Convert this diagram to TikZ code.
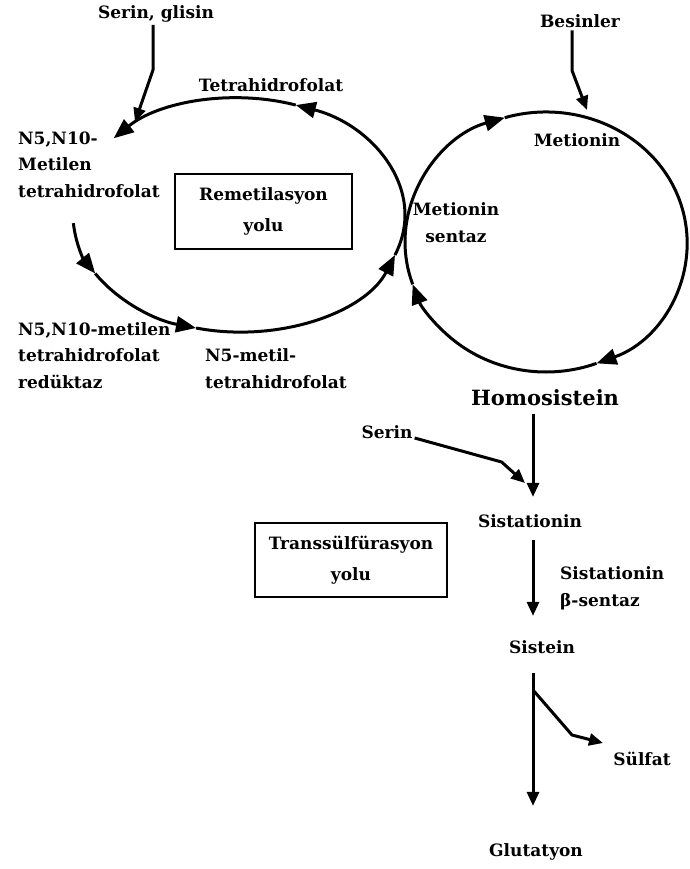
\documentclass[tikz,border=0pt]{standalone}
\usepackage{fontspec}
\setmainfont{DejaVu Serif}
\usetikzlibrary{arrows.meta}

\newcommand{\lblfont}{\fontsize{17pt}{26.5pt}\selectfont\bfseries}
\newcommand{\boxfont}{\fontsize{17pt}{31pt}\selectfont\bfseries}
\newcommand{\bigfont}{\fontsize{21pt}{25pt}\selectfont\bfseries}

\begin{document}
\begin{tikzpicture}[x=1pt, y=1pt,
  lbl/.style={font=\lblfont, inner sep=2pt},
  big/.style={font=\bigfont, inner sep=2pt},
  pathbox/.style={draw, line width=2.2pt, font=\boxfont, align=center},
  ring/.style={line width=3pt},
  cyc/.style={ring, -{Triangle[length=20pt,width=16pt]}},
  flow/.style={line width=3pt, -{Triangle[length=14pt,width=12pt]}}]

\useasboundingbox (0,0) rectangle (689,-869);

% Centres of the two cycles
\coordinate (rem) at (239,-215);
\coordinate (met) at (546,-242);
\coordinate (axis) at (533,0);

% Remethylation side
\node[lbl, anchor=base] (sg) at (156,-19) {Serin, glisin};
\node[lbl, anchor=base] (thf) at (271,-92) {Tetrahidrofolat};
\node[lbl, anchor=base west, align=left] (mthf) at (16,-197) {N5,N10-\\Metilen\\tetrahidrofolat};
\node[lbl, anchor=base west, align=left] (mthfr) at (16,-388) {N5,N10-metilen\\tetrahidrofolat\\redüktaz};
\node[lbl, anchor=base west, align=left] (methf) at (203,-388) {N5-metil-\\tetrahidrofolat};
\node[pathbox, minimum width=177pt, minimum height=75pt] (rbox) at (263.5,-211.5) {Remetilasyon\\yolu};

% Methionine side
\node[lbl, anchor=base] (bes) at (580,-28) {Besinler};
\node[lbl, anchor=base] (metn) at (577,-147) {Metionin};
\node[lbl, anchor=base, align=center] (ms) at (456,-242) {Metionin\\sentaz};
\node[big, anchor=base] (homo) at (545,-405) {Homosistein};

% Transsulfuration side
\node[lbl, anchor=base] (serin) at (387,-438) {Serin};
\node[lbl, anchor=base] (cth) at (530,-527) {Sistationin};
\node[lbl, anchor=base west, align=left] (cbs) at (558,-606) {Sistationin\\β-sentaz};
\node[lbl, anchor=base] (cys) at (542,-653) {Sistein};
\node[lbl, anchor=base] (sulf) at (642,-765) {Sülfat};
\node[lbl, anchor=base] (gsh) at (536,-856) {Glutatyon};
\node[pathbox, minimum width=192pt, minimum height=74pt] (tbox) at (351,-560) {Transsülfürasyon\\yolu};

% Arrow ends of the side inputs
\coordinate (sgtip) at (135,-122);
\coordinate (bestip) at (587,-110);
\coordinate (sertip) at (525,-483);
\coordinate (split) at (533,-690);
\coordinate (sulftip) at (603,-743);

% Remethylation cycle
\foreach \a/\b in {0/70, 70/139, 184/210, 210/255, 255/340} {
  \draw[cyc] ([shift={(rem)}]\a:166 and 117) arc[start angle=\a, end angle=\b, x radius=166pt, y radius=117pt];
}
\draw[ring] ([shift={(rem)}]340:166 and 117) arc[start angle=340, end angle=360, x radius=166pt, y radius=117pt];

% Methionine cycle
\foreach \a/\b in {180/107, 107/-69, -69/-161} {
  \draw[cyc] ([shift={(met)}]\a:141 and 130) arc[start angle=\a, end angle=\b, x radius=141pt, y radius=130pt];
}
\draw[ring] ([shift={(met)}]-161:141 and 130) arc[start angle=-161, end angle=-180, x radius=141pt, y radius=130pt];

% Inputs
\draw[flow] ([xshift=-3pt]sg.south) -- ++(0,-45) -- (sgtip);
\draw[flow] ([xshift=-8pt]bes.south) -- ++(0,-40) -- (bestip);
\draw[flow] (serin.base east) -- ++(87,-24) -- (sertip);

% Main chain
\draw[flow, shorten <=6pt, shorten >=15pt] (homo.south -| axis) -- (cth.north -| axis);
\draw[flow, shorten <=11pt, shorten >=22pt] (cth.south -| axis) -- (cys.north -| axis);
\draw[flow, shorten <=18pt, shorten >=35pt] (cys.south -| axis) -- (gsh.north -| axis);
\draw[flow] (split) -- ++(39,-45) -- (sulftip);

\end{tikzpicture}
\end{document}
